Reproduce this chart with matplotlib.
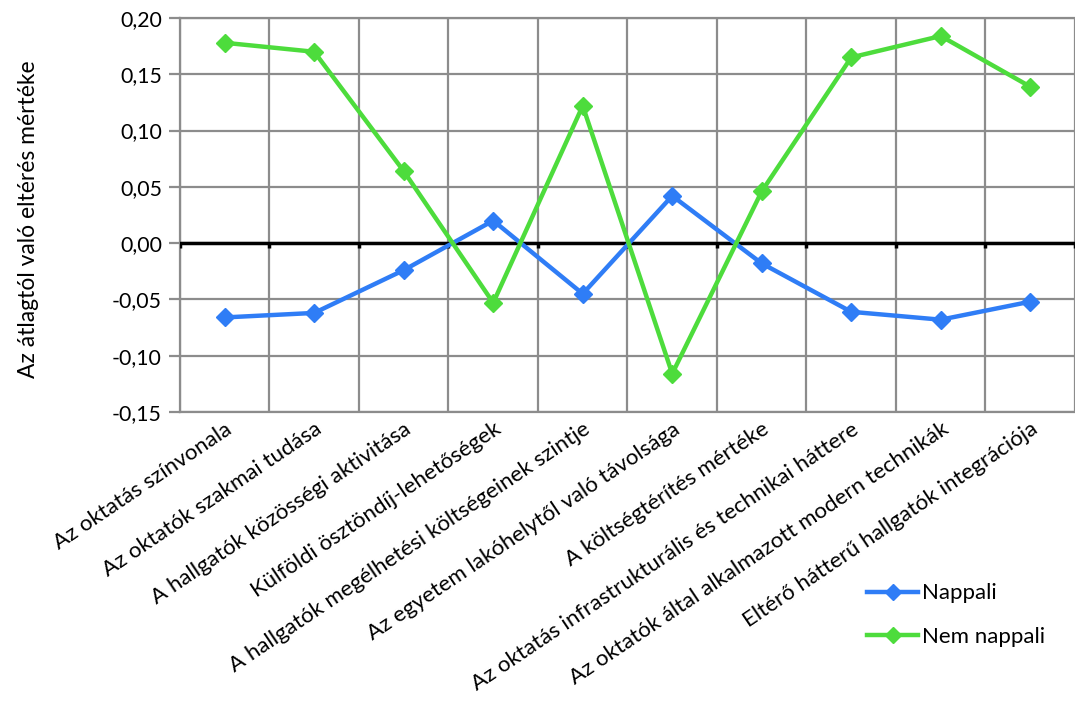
import numpy as np
import matplotlib.pyplot as plt
from matplotlib.ticker import MultipleLocator, FuncFormatter

plt.rcParams['font.family'] = ['Lato', 'DejaVu Sans']

# categories and values
kategoriak = ['Az oktatás színvonala',
              'Az oktatók szakmai tudása',
              'A hallgatók közösségi aktivitása',
              'Külföldi ösztöndíj-lehetőségek',
              'A hallgatók megélhetési költségeinek szintje',
              'Az egyetem lakóhelytől való távolsága',
              'A költségtérítés mértéke',
              'Az oktatás infrastrukturális és technikai háttere',
              'Az oktatók által alkalmazott modern technikák',
              'Eltérő hátterű hallgatók integrációja']
nappali = [-0.066, -0.062, -0.024, 0.020, -0.045, 0.042, -0.018, -0.061, -0.068, -0.052]
nem_nappali = [0.178, 0.170, 0.064, -0.053, 0.122, -0.116, 0.046, 0.165, 0.184, 0.139]

kek = '#2f7df6'
zold = '#4ddc3c'
racs = '#8c8c8c'

fig = plt.figure(figsize=(10.75, 7.15), dpi=100)
ax = fig.add_axes([0.1674, 0.4238, 0.8326, 0.551])

x = np.arange(len(kategoriak))
ax.plot(x, nappali, color=kek, lw=3.2, marker='D', ms=9.5, label='Nappali', zorder=4)
ax.plot(x, nem_nappali, color=zold, lw=3.2, marker='D', ms=9.5, label='Nem nappali', zorder=4)

ax.set_xlim(-0.5, len(kategoriak) - 0.5)
ax.set_ylim(-0.15, 0.20)
ax.yaxis.set_major_locator(MultipleLocator(0.05))
ax.yaxis.set_major_formatter(FuncFormatter(lambda v, p: ('%.2f' % v).replace('.', ',').replace('-0,00', '0,00')))

# vertical grid at category borders
ax.set_xticks(x)
ax.set_xticks(np.arange(-0.5, len(kategoriak)), minor=True)
ax.grid(True, which='minor', axis='x', color=racs, lw=1.6, zorder=1)
ax.grid(True, which='major', axis='y', color=racs, lw=1.6, zorder=1)
ax.tick_params(axis='x', which='both', length=0)
ax.tick_params(axis='y', length=8, width=1.6, color=racs, labelsize=15.3, pad=5)
ax.set_xticklabels(kategoriak, rotation=34, ha='right', rotation_mode='anchor', fontsize=16)
ax.tick_params(axis='x', pad=5)

for s in ['left', 'bottom', 'top']:
    ax.spines[s].set_color(racs)
    ax.spines[s].set_linewidth(1.6)
ax.spines['right'].set_visible(False)

# zero line with small ticks
ax.axhline(0, color='black', lw=2.5, zorder=3)
for b in np.arange(-0.5, len(kategoriak)):
    ax.plot([b, b], [0, -0.004], color='black', lw=2.5, zorder=3, solid_capstyle='butt')

ax.set_ylabel('Az átlagtól való eltérés mértéke', fontsize=16.5)
ax.yaxis.set_label_coords(-0.158, 0.49)

fig.legend(loc='upper left', bbox_to_anchor=(0.788, 0.212), frameon=False,
           fontsize=16, handlelength=2.3, handletextpad=0.15, labelspacing=1.05,
           markerscale=0.85)

fig.savefig('out.png', dpi=100)
